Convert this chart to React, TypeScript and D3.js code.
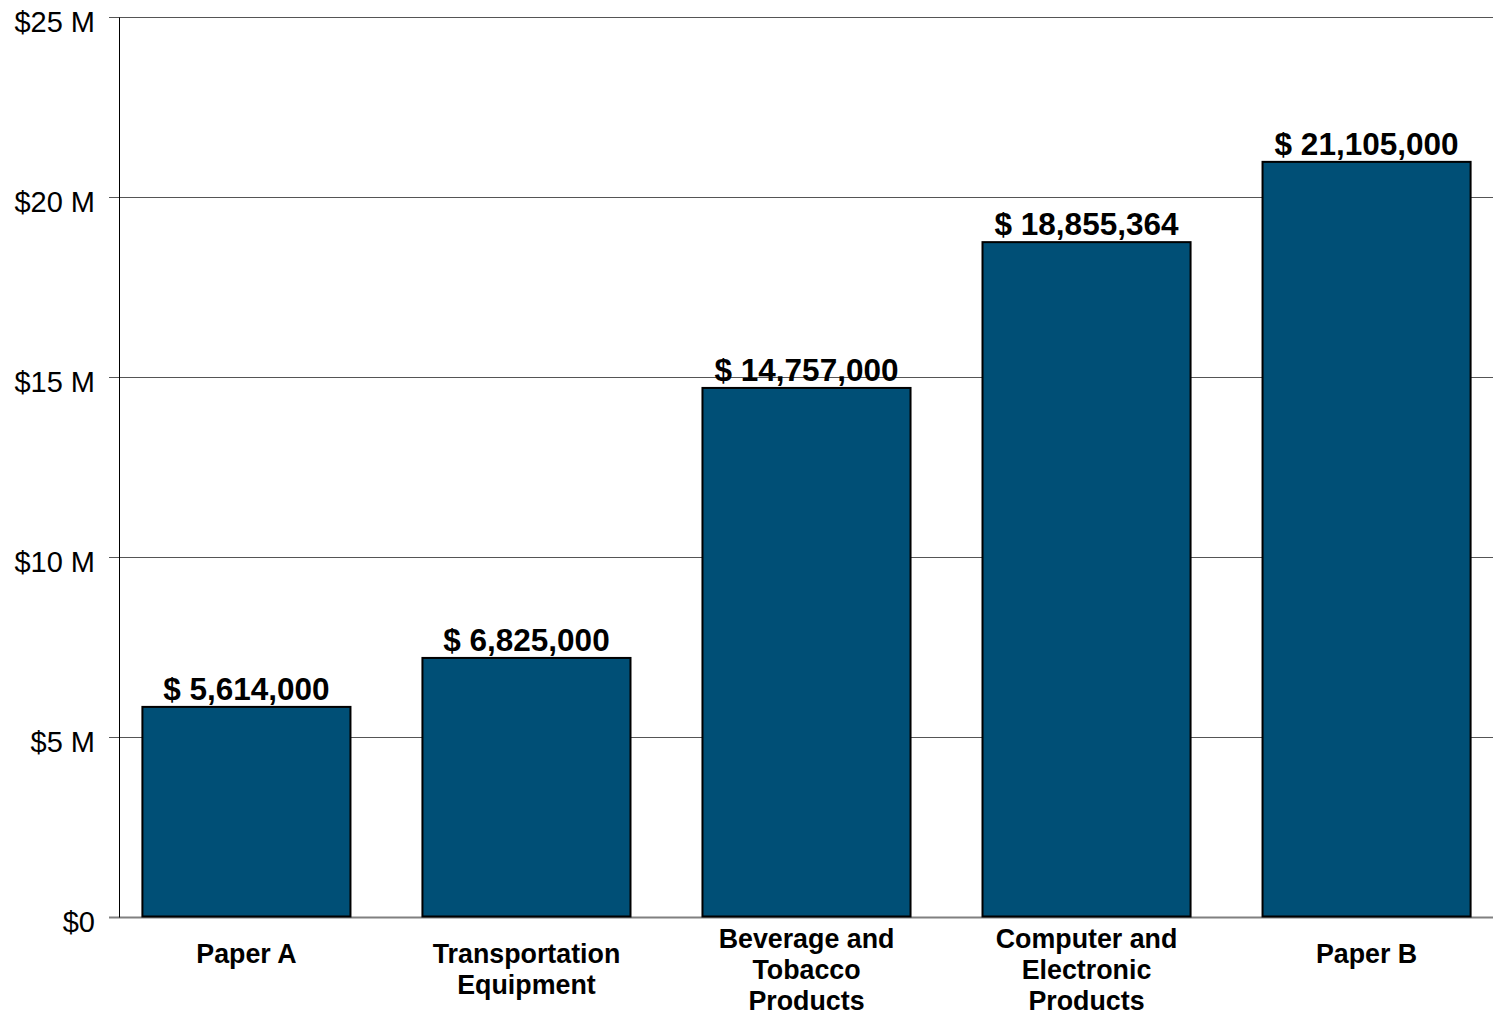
import React from "react";
import * as d3 from "d3";

const categories: string[][] = [
  ["Paper A"],
  ["Transportation", "Equipment"],
  ["Beverage and", "Tobacco", "Products"],
  ["Computer and", "Electronic", "Products"],
  ["Paper B"],
];
const barValues: number[] = [5.85, 7.21, 14.71, 18.76, 20.99];
const valueLabels: string[] = [
  "$ 5,614,000",
  "$ 6,825,000",
  "$ 14,757,000",
  "$ 18,855,364",
  "$ 21,105,000",
];
const yTicks: number[] = [0, 5, 10, 15, 20, 25];
const yTickLabels: string[] = ["$0", "$5 M", "$10 M", "$15 M", "$20 M", "$25 M"];

const W = 1493;
const H = 1017;
const FONT = "'Liberation Sans', Arial, sans-serif";

export default function App() {
  const x = d3
    .scaleBand<number>()
    .domain(d3.range(categories.length))
    .range([120, 1493])
    .paddingInner(0.257)
    .paddingOuter(0.08);
  const y = d3.scaleLinear().domain([0, 25]).range([917.5, 17.5]);

  return (
    <svg
      width={W}
      height={H}
      style={{ position: "absolute", left: 0, top: 0, background: "#fff" }}
    >
      {yTicks.map((t, i) => (
        <g key={i}>
          <line
            x1={109}
            x2={W}
            y1={y(t)}
            y2={y(t)}
            stroke={t === 0 ? "#808080" : "#555"}
            strokeWidth={t === 0 ? 2 : 1}
          />
          <text
            x={95}
            y={y(t) + 14}
            textAnchor="end"
            fontFamily={FONT}
            fontSize={29}
            fill="#000"
          >
            {yTickLabels[i]}
          </text>
        </g>
      ))}
      <line x1={119.5} x2={119.5} y1={y(25)} y2={y(0)} stroke="#000" strokeWidth={1} />
      {barValues.map((v, i) => {
        const bx = x(i)!;
        const bw = x.bandwidth();
        const cx = bx + bw / 2;
        return (
          <g key={i}>
            <rect
              x={bx}
              y={y(v)}
              width={bw}
              height={y(0) - y(v) - 1}
              fill="#004f76"
              stroke="#000"
              strokeWidth={2}
            />
            <text
              x={cx}
              y={y(v) - 7}
              textAnchor="middle"
              fontFamily={FONT}
              fontWeight="bold"
              fontSize={31.5}
              fill="#000"
            >
              {valueLabels[i]}
            </text>
            {categories[i].map((line, j) => (
              <text
                key={j}
                x={cx}
                y={(categories[i].length === 3 ? 948 : 963) + j * 31.2}
                textAnchor="middle"
                fontFamily={FONT}
                fontWeight="bold"
                fontSize={26.8}
                fill="#000"
              >
                {line}
              </text>
            ))}
          </g>
        );
      })}
    </svg>
  );
}
